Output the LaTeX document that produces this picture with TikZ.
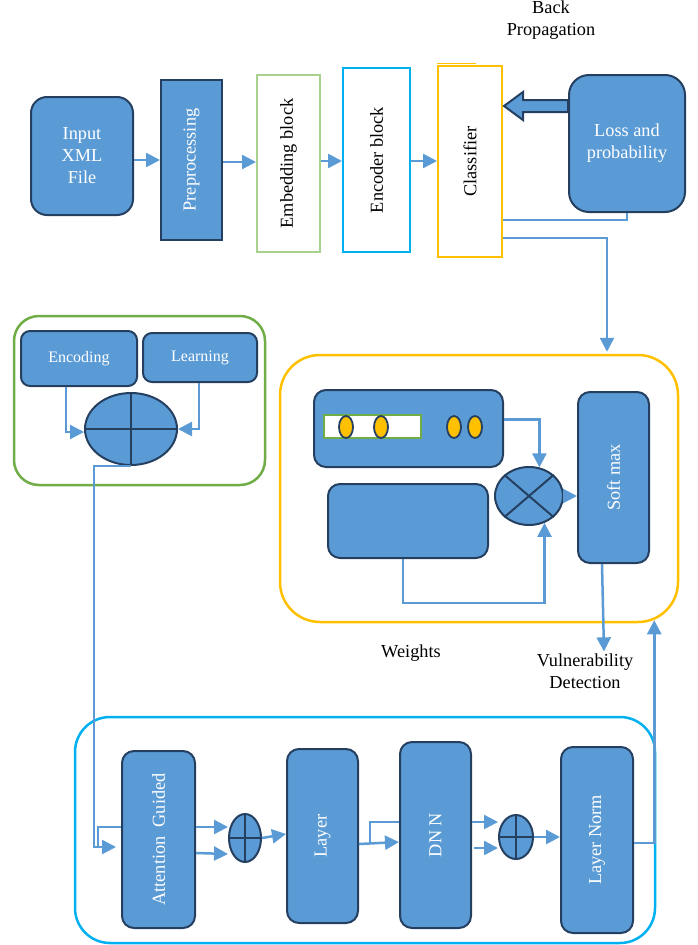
\documentclass[tikz,border=0pt]{standalone}
\usepackage{fontspec}
\setmainfont{Liberation Serif}
\usepackage{graphicx}
\usetikzlibrary{arrows.meta,shapes.geometric,calc}
\definecolor{fillb}{HTML}{5B9BD5}
\definecolor{edgeb}{HTML}{243F60}
\definecolor{goldc}{HTML}{FFC000}
\definecolor{grnc}{HTML}{70AD47}
\definecolor{lgrnc}{HTML}{A9D18E}
\definecolor{skyb}{HTML}{00B0F0}
\tikzset{
  blk/.style={draw=edgeb, fill=fillb, line width=2pt, rounded corners=12pt, text=white, inner sep=0pt, align=center},
  sqblk/.style={draw=edgeb, fill=fillb, line width=2pt, text=white, inner sep=0pt},
  wblk/.style={fill=white, line width=2pt, inner sep=0pt, text=black},
  plusnode/.style={ellipse, draw=edgeb, fill=fillb, line width=2pt, inner sep=0pt},
  oval/.style={ellipse, draw=edgeb, fill=goldc, line width=1.8pt, inner sep=0pt, minimum width=14pt, minimum height=22pt},
  conn/.style={draw=fillb, line width=2.5pt, -{Triangle[length=14pt,width=14pt]}},
  wire/.style={draw=fillb, line width=1.6pt},
  outer/.style={line width=2.5pt, inner sep=0pt, fill=none},
  lbl/.style={align=center, inner sep=0pt, text=black}
}
\begin{document}
\begin{tikzpicture}[x=1pt,y=-1pt,font=\fontsize{18.3}{22}\selectfont]
\useasboundingbox (0,0) rectangle (697,945);

% ---------- top row ----------
\node[blk, rounded corners=16pt, minimum width=102pt, minimum height=118pt] (input) at (82,156) {Input\\XML\\File};
\node[sqblk, minimum width=61pt, minimum height=160pt] (pre) at (191.5,160) {\rotatebox{90}{Preprocessing}};
\node[wblk, draw=lgrnc, minimum width=63pt, minimum height=177pt] (emb) at (288.5,163.5) {\rotatebox{90}{Embedding block}};
\node[wblk, draw=skyb, minimum width=67pt, minimum height=184pt] (enc) at (376.5,160) {\rotatebox{90}{Encoder block}};
\node[wblk, draw=goldc, minimum width=64pt, minimum height=191pt] (cls) at (470,161.5) {\rotatebox{90}{Classifier}};
\draw[goldc, line width=1pt] ($(cls.north west)+(0,-2)$) -- ++(39,0);
\node[blk, rounded corners=20pt, minimum width=116pt, minimum height=137pt] (loss) at (627,143.5) {Loss and\\probability};
\node[lbl] (bp) at (551,20.5) {Back\\Propagation};

\draw[conn] (input.east |- 0,160) -- (pre.west |- 0,160);
\draw[conn] (pre.east |- 0,162) -- (emb.west |- 0,162);
\draw[conn] (emb.east |- 0,161) -- (enc.west |- 0,161);
\draw[conn] (enc.east |- 0,161) -- (cls.west |- 0,161);

% block arrow from loss to classifier
\draw[draw=edgeb, fill=fillb, line width=2pt, line join=miter]
  (loss.west |- 0,100) -- (523,100) -- (523,92) -- ($(cls.east |- 0,106)+(1,0)$) -- (523,120) -- (523,112) -- (loss.west |- 0,112) -- cycle;

\draw[wire] ([yshift=-58.5pt]cls.east) -| (loss.south);

% ---------- green box ----------
\node[outer, draw=grnc, rounded corners=25pt, minimum width=251pt, minimum height=169pt] (gbox) at (139.5,400.5) {};
\node[blk, rounded corners=9pt, minimum width=116pt, minimum height=55pt, font=\fontsize{16}{19}\selectfont] (encd) at (79,358.5) {Encoding};
\node[blk, rounded corners=9pt, minimum width=114pt, minimum height=49pt, font=\fontsize{16}{19}\selectfont] (lrn) at (200,357.5) {Learning};
\node[plusnode, minimum width=92pt, minimum height=72pt] (sum1) at (131,429) {};
\draw[edgeb, line width=2pt] (sum1.north) -- (sum1.south) (sum1.west) -- (sum1.east);
\draw[conn] ([xshift=-13pt]encd.south) |- ([yshift=-3pt]sum1.west);
\draw[conn] ([xshift=-1pt]lrn.south) |- (sum1.east);

% ---------- yellow box ----------
\node[outer, draw=goldc, rounded corners=40pt, minimum width=398pt, minimum height=267pt] (ybox) at (479,488.5) {};
\node[blk, minimum width=189pt, minimum height=77pt] (tb) at (408.5,428.5) {};
\node[wblk, draw=grnc, minimum width=97pt, minimum height=23pt] (wrect) at (372.5,426.5) {};
\node[oval] (o1) at (346,427) {};
\node[oval] (o2) at (381,427) {};
\node[oval] (o3) at (454,427) {};
\node[oval] (o4) at (475,427) {};
\node[blk, minimum width=160pt, minimum height=74pt] (bb) at (408,521) {};
\node[plusnode, minimum width=68pt, minimum height=58pt] (mul) at (529,496) {};
\draw[edgeb, line width=2pt] (mul.north west) -- (mul.south east) (mul.north east) -- (mul.south west);
\node[blk, minimum width=71pt, minimum height=171pt] (sm) at (613.5,477.5) {\rotatebox{90}{Soft max}};

\draw[conn] ([yshift=9pt]tb.east) -| (mul.70);
\draw[conn] ([xshift=-5pt]bb.south) -- ++(0,44) -| (mul.300);
\draw[conn] (mul.east) -- (sm.west |- mul.east);

\node[lbl] (wts) at (411,653) {Weights};
\node[lbl] (vd) at (585,671) {Vulnerability\\Detection};
\draw[conn] ([xshift=-11.5pt]sm.south) -- ([xshift=19pt,yshift=2pt]vd.north);

\draw[conn] ([yshift=-76.5pt]cls.east) -| ($(ybox.north -| sm.north)+(-6.5,-2)$);

% ---------- bottom box ----------
\node[outer, draw=skyb, rounded corners=35pt, minimum width=580pt, minimum height=226pt] (bbox) at (365,830) {};
\node[blk, minimum width=73pt, minimum height=177pt] (att) at (158.5,839.5) {\rotatebox{90}{Attention\ \ Guided}};
\node[plusnode, minimum width=32pt, minimum height=48pt] (p1) at (245,838) {};
\draw[edgeb, line width=2pt] (p1.north) -- (p1.south) (p1.west) -- (p1.east);
\node[blk, minimum width=71pt, minimum height=174pt] (lay) at (322.5,836) {\rotatebox{90}{Layer}};
\node[blk, minimum width=71pt, minimum height=186pt] (dnn) at (435.5,835) {\rotatebox{90}{DN N}};
\node[plusnode, minimum width=34pt, minimum height=44pt] (p2) at (516,837) {};
\draw[edgeb, line width=2pt] (p2.north) -- (p2.south) (p2.west) -- (p2.east);
\node[blk, minimum width=72pt, minimum height=186pt] (ln) at (597,840) {\rotatebox{90}{Layer Norm}};

% from green box ellipse down to attention
\draw[conn, shorten >=5pt] (sum1.south) -| (94,847) -- (att.west |- 0,847);
\draw[wire] (att.west |- 0,827) -| (98,847);

\draw[conn] (att.east |- 0,827) -- (p1.west |- 0,827);
\draw[conn] (att.east |- 0,853) -- ([yshift=-16pt]p1.west);
\draw[conn] (p1.east) -- (lay.west |- 0,834);
\draw[conn] (lay.east |- 0,844) -- (dnn.west |- 0,842);
\coordinate (j1) at (370,844);
\draw[wire] (j1) |- (dnn.west |- 0,822);
\draw[conn] (dnn.east |- 0,822) -- (p2.west |- 0,822);
\draw[conn] ([xshift=2pt]dnn.east |- 0,848) -- (p2.west |- 0,848);
\draw[conn] (p2.east) -- (ln.west |- p2.east);
\draw[conn] (ln.east |- 0,843) -| ($(ybox.south east)+(-25,-3)$);
\end{tikzpicture}
\end{document}
